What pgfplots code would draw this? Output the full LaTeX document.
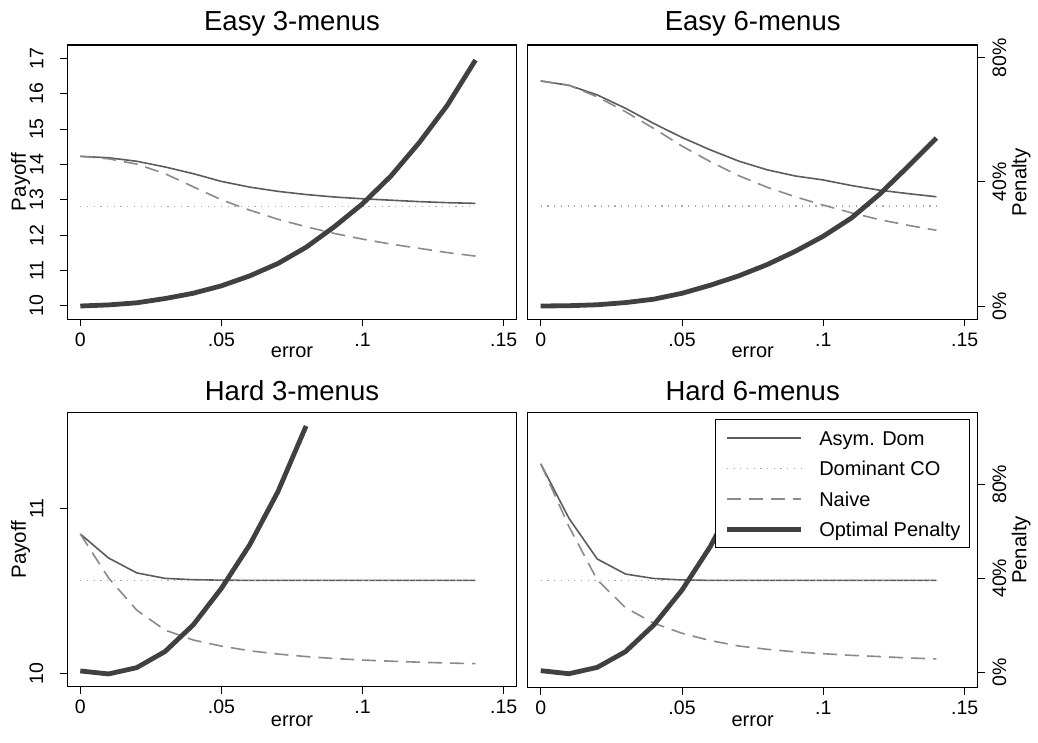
\documentclass[border=0pt]{standalone}
\usepackage{fontspec}
\setmainfont{Liberation Sans}
\usepackage{pgfplots}
\usepackage{pgfplotstable}
\pgfplotsset{compat=1.18}

\definecolor{cAsym}{HTML}{5C5C5C}
\definecolor{cDom}{HTML}{A8A8A8}
\definecolor{cNaive}{HTML}{8A8A8A}
\definecolor{cPen}{HTML}{404040}

% Easy 3-menus (payoff units)
\pgfplotstableread{
x asym dom naive pen
0.00 14.23 12.81 14.23 10.00
0.01 14.19 12.81 14.16 10.03
0.02 14.09 12.81 14.01 10.09
0.03 13.93 12.81 13.74 10.21
0.04 13.74 12.81 13.37 10.36
0.05 13.52 12.81 13.00 10.57
0.06 13.36 12.81 12.71 10.85
0.07 13.24 12.81 12.45 11.20
0.08 13.15 12.81 12.24 11.66
0.09 13.08 12.81 12.05 12.24
0.10 13.03 12.81 11.89 12.89
0.11 12.99 12.81 11.75 13.67
0.12 12.95 12.81 11.63 14.61
0.13 12.92 12.81 11.51 15.67
0.14 12.90 12.81 11.41 16.95
}\easythree

% Easy 6-menus (penalty units, %)
\pgfplotstableread{
x asym dom naive pen
0.00 72.5 32.2 72.5 0.0
0.01 71.1 32.2 71.1 0.1
0.02 68.0 32.2 67.4 0.4
0.03 63.7 32.2 62.6 1.1
0.04 58.8 32.2 57.2 2.2
0.05 54.3 32.2 51.5 4.1
0.06 50.3 32.2 46.5 6.7
0.07 46.7 32.2 42.0 9.7
0.08 43.9 32.2 38.3 13.3
0.09 41.9 32.2 35.2 17.6
0.10 40.6 32.2 32.5 22.5
0.11 38.8 32.2 30.0 28.4
0.12 37.3 32.2 27.8 36.1
0.13 36.2 32.2 26.0 45.0
0.14 35.2 32.2 24.4 54.1
}\easysix

% Hard 3-menus (payoff units)
\pgfplotstableread{
x asym dom naive pen
0.00 10.845 10.565 10.845 10.018
0.01 10.700 10.565 10.580 10.000
0.02 10.610 10.565 10.385 10.038
0.03 10.577 10.565 10.265 10.135
0.04 10.569 10.565 10.205 10.296
0.05 10.566 10.565 10.168 10.517
0.06 10.565 10.565 10.140 10.779
0.07 10.565 10.565 10.120 11.100
0.08 10.565 10.565 10.105 11.497
0.09 10.565 10.565 10.093 nan
0.10 10.565 10.565 10.084 nan
0.11 10.565 10.565 10.077 nan
0.12 10.565 10.565 10.071 nan
0.13 10.565 10.565 10.066 nan
0.14 10.565 10.565 10.062 nan
}\hardthree

% Hard 6-menus (penalty units, %)
\pgfplotstableread{
x asym dom naive pen
0.00 88.7 39.1 88.7 0.7
0.01 65.5 39.1 62.0 -0.6
0.02 48.2 39.1 39.3 2.1
0.03 41.8 39.1 27.5 8.8
0.04 39.9 39.1 20.9 20.1
0.05 39.3 39.1 16.6 35.0
0.06 39.1 39.1 13.5 53.5
0.07 39.1 39.1 11.2 76.2
0.08 39.1 39.1 9.8 103.8
0.09 39.1 39.1 8.7 nan
0.10 39.1 39.1 7.9 nan
0.11 39.1 39.1 7.2 nan
0.12 39.1 39.1 6.7 nan
0.13 39.1 39.1 6.1 nan
0.14 39.1 39.1 5.7 nan
}\hardsix

\pgfplotsset{
  panel/.style={
    scale only axis, anchor=south west,
    xmin=-0.0046, xmax=0.1546,
    xtick={0,0.05,0.1,0.15}, xticklabels={0,.05,.1,.15},
    xtick pos=left,
    tick align=outside, major tick length=7pt,
    axis line style={black, line width=1.1pt},
    major tick style={black, line width=1pt},
    unbounded coords=jump,
    tick label style={font=\fontsize{19.5}{19.5}\selectfont},
    xticklabel style={anchor=north, inner sep=0pt, yshift=-6.4pt},
    xlabel={error},
    every axis x label/.style={at={(axis description cs:0.5,0)}, anchor=base,
      font=\fontsize{20}{20}\selectfont},
    every axis title/.style={at={(axis description cs:0.5,1)}, anchor=base,
      font=\fontsize{27.5}{27.5}\selectfont},
  },
  leftpanel/.style={
    width=449.4pt, height=274.3pt,
    ytick pos=left,
    yticklabel style={rotate=90, anchor=south, inner sep=0pt, inner ysep=16.8pt},
    every axis y label/.style={at={(axis description cs:-0.1041,0.5)}, rotate=90, anchor=center,
      font=\fontsize{20.5}{20.5}\selectfont},
    ylabel={Payoff},
  },
  rightpanel/.style={
    width=450pt, height=274.3pt,
    ytick pos=right, yticklabel pos=right,
    ytick={0,40,80}, yticklabels={0\%,40\%,80\%},
    yticklabel style={rotate=90, anchor=north, inner sep=0pt, inner ysep=7.5pt},
    every axis y label/.style={at={(axis description cs:1.0963,0.5)}, rotate=90, anchor=center,
      font=\fontsize{20.3}{20.3}\selectfont},
    ylabel={Penalty},
  },
  asymline/.style={cAsym, line width=1.6pt, line join=round},
  domline/.style={cDom, line width=1.2pt, dash pattern=on 1.2pt off 5.5pt},
  naiveline/.style={cNaive, line width=1.6pt, dash pattern=on 14pt off 8pt},
  penline/.style={cPen, line width=4.8pt, line join=round},
}

\begin{document}
\begin{tikzpicture}
\useasboundingbox (0,0) rectangle (1038pt,742pt);

% Easy 3-menus
\begin{axis}[panel, leftpanel, at={(67.3pt,422.7pt)},
  ymin=9.624, ymax=17.376,
  ytick={10,11,12,13,14,15,16,17}, yticklabels={10,11,12,13,14,15,16,17},
  title={Easy 3-menus}, title style={yshift=14.3pt},
  xlabel style={yshift=-38pt}]
\addplot[asymline] table[x=x, y=asym] {\easythree};
\addplot[domline] table[x=x, y=dom] {\easythree};
\addplot[naiveline] table[x=x, y=naive] {\easythree};
\addplot[penline] table[x=x, y=pen] {\easythree};
\end{axis}

% Easy 6-menus
\begin{axis}[panel, rightpanel, at={(527.7pt,422.7pt)},
  ymin=-4.28, ymax=84.09,
  title={Easy 6-menus}, title style={yshift=14.3pt},
  xlabel style={yshift=-38pt}]
\addplot[asymline] table[x=x, y=asym] {\easysix};
\addplot[domline] table[x=x, y=dom] {\easysix};
\addplot[naiveline] table[x=x, y=naive] {\easysix};
\addplot[penline] table[x=x, y=pen] {\easysix};
\end{axis}

% Hard 3-menus
\begin{axis}[panel, leftpanel, at={(67.3pt,55.3pt)},
  ymin=9.923, ymax=11.579,
  ytick={10,11}, yticklabels={10,11},
  title={Hard 3-menus}, title style={yshift=11.6pt},
  xlabel style={yshift=-40pt}]
\addplot[asymline] table[x=x, y=asym] {\hardthree};
\addplot[domline] table[x=x, y=dom] {\hardthree};
\addplot[naiveline] table[x=x, y=naive] {\hardthree};
\addplot[penline] table[x=x, y=pen] {\hardthree};
\end{axis}

% Hard 6-menus
\begin{axis}[panel, rightpanel, at={(527.7pt,54.3pt)},
  height=275.4pt,
  ymin=-6.55, ymax=110.6,
  title={Hard 6-menus}, title style={yshift=11.6pt},
  xlabel style={yshift=-39pt},
  legend cell align=left,
  legend image code/.code={\draw[#1] (0pt,0pt) -- (74pt,0pt);},
  legend style={at={(1,1)}, anchor=north east, xshift=-7.7pt, yshift=-7pt,
    draw=black, line width=1.1pt, fill=white,
    font=\fontsize{20}{20}\selectfont,
    inner xsep=9pt, inner ysep=11pt, row sep=16pt,
    nodes={inner sep=0pt, text height=14.5pt, text depth=0pt},
    /tikz/every odd column/.append style={column sep=16pt}}]
\addplot[asymline] table[x=x, y=asym] {\hardsix};
\addplot[domline] table[x=x, y=dom] {\hardsix};
\addplot[naiveline] table[x=x, y=naive] {\hardsix};
\addplot[penline] table[x=x, y=pen] {\hardsix};
\legend{Asym. Dom, Dominant CO, Naive, Optimal Penalty}
\end{axis}
\end{tikzpicture}
\end{document}
